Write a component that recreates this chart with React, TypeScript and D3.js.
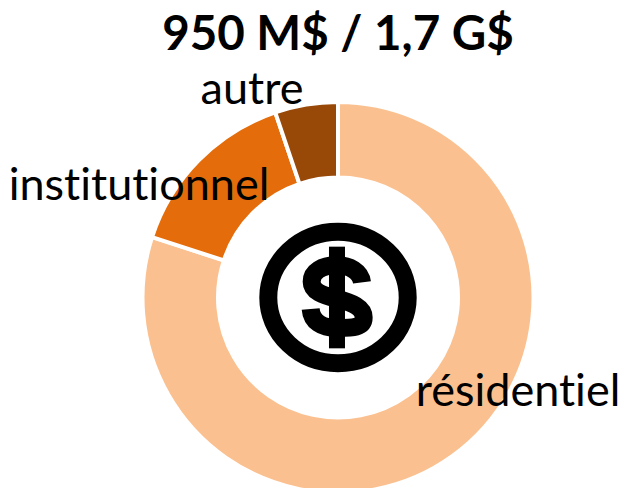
import React from "react";
import * as d3 from "d3";

const categories = ["résidentiel", "institutionnel", "autre"];
const values = [80, 14.8, 5.2];
const colors = ["#FBC08F", "#E46C0A", "#984807"];
const titleText = "950 M$ / 1,7 G$";

const W = 623, H = 488, cx = 338, cy = 297.5, R = 195.5, r = 120;
const FONT = "Lato, 'Open Sans', sans-serif";

const labelPos: Record<string, [number, number]> = {
  "résidentiel": [518, 406],
  "institutionnel": [139, 200],
  "autre": [252, 104],
};

export default function App() {
  const pie = d3.pie<number>().sort(null)(values);
  const arc = d3.arc<d3.PieArcDatum<number>>().innerRadius(r).outerRadius(R);
  return (
    <svg width={W} height={H} style={{ position: "absolute", left: 0, top: 0, background: "#fff", fontVariantLigatures: "none" }}>
      {pie.map((d, i) => (
        <path key={i} d={arc(d) || ""} transform={`translate(${cx},${cy})`} fill={colors[i]} stroke="#fff" strokeWidth={4} />
      ))}
      <ellipse cx={338} cy={297.5} rx={69.7} ry={65.7} fill="none" stroke="#000" strokeWidth={18} />
      <g transform="translate(230,220) scale(0.3333)">
        <rect x={297} y={80} width={48} height={305} fill="#000" />
        <path
          d="M396,187 C392,155 360,136 320,136 C275,136 245,155 245,185 C245,215 280,226 320,236 C365,247 401,262 401,292 C401,325 365,324 320,324 C275,324 245,305 242,267"
          fill="none" stroke="#000" strokeWidth={54}
        />
      </g>
      <text x={338} y={50} textAnchor="middle" fontFamily={FONT} fontWeight={700} fontSize={47.5} fill="#000">{titleText}</text>
      {categories.map((c) => (
        <text key={c} x={labelPos[c][0]} y={labelPos[c][1]} textAnchor="middle" fontFamily={FONT} fontSize={45} fill="#000">{c}</text>
      ))}
    </svg>
  );
}
